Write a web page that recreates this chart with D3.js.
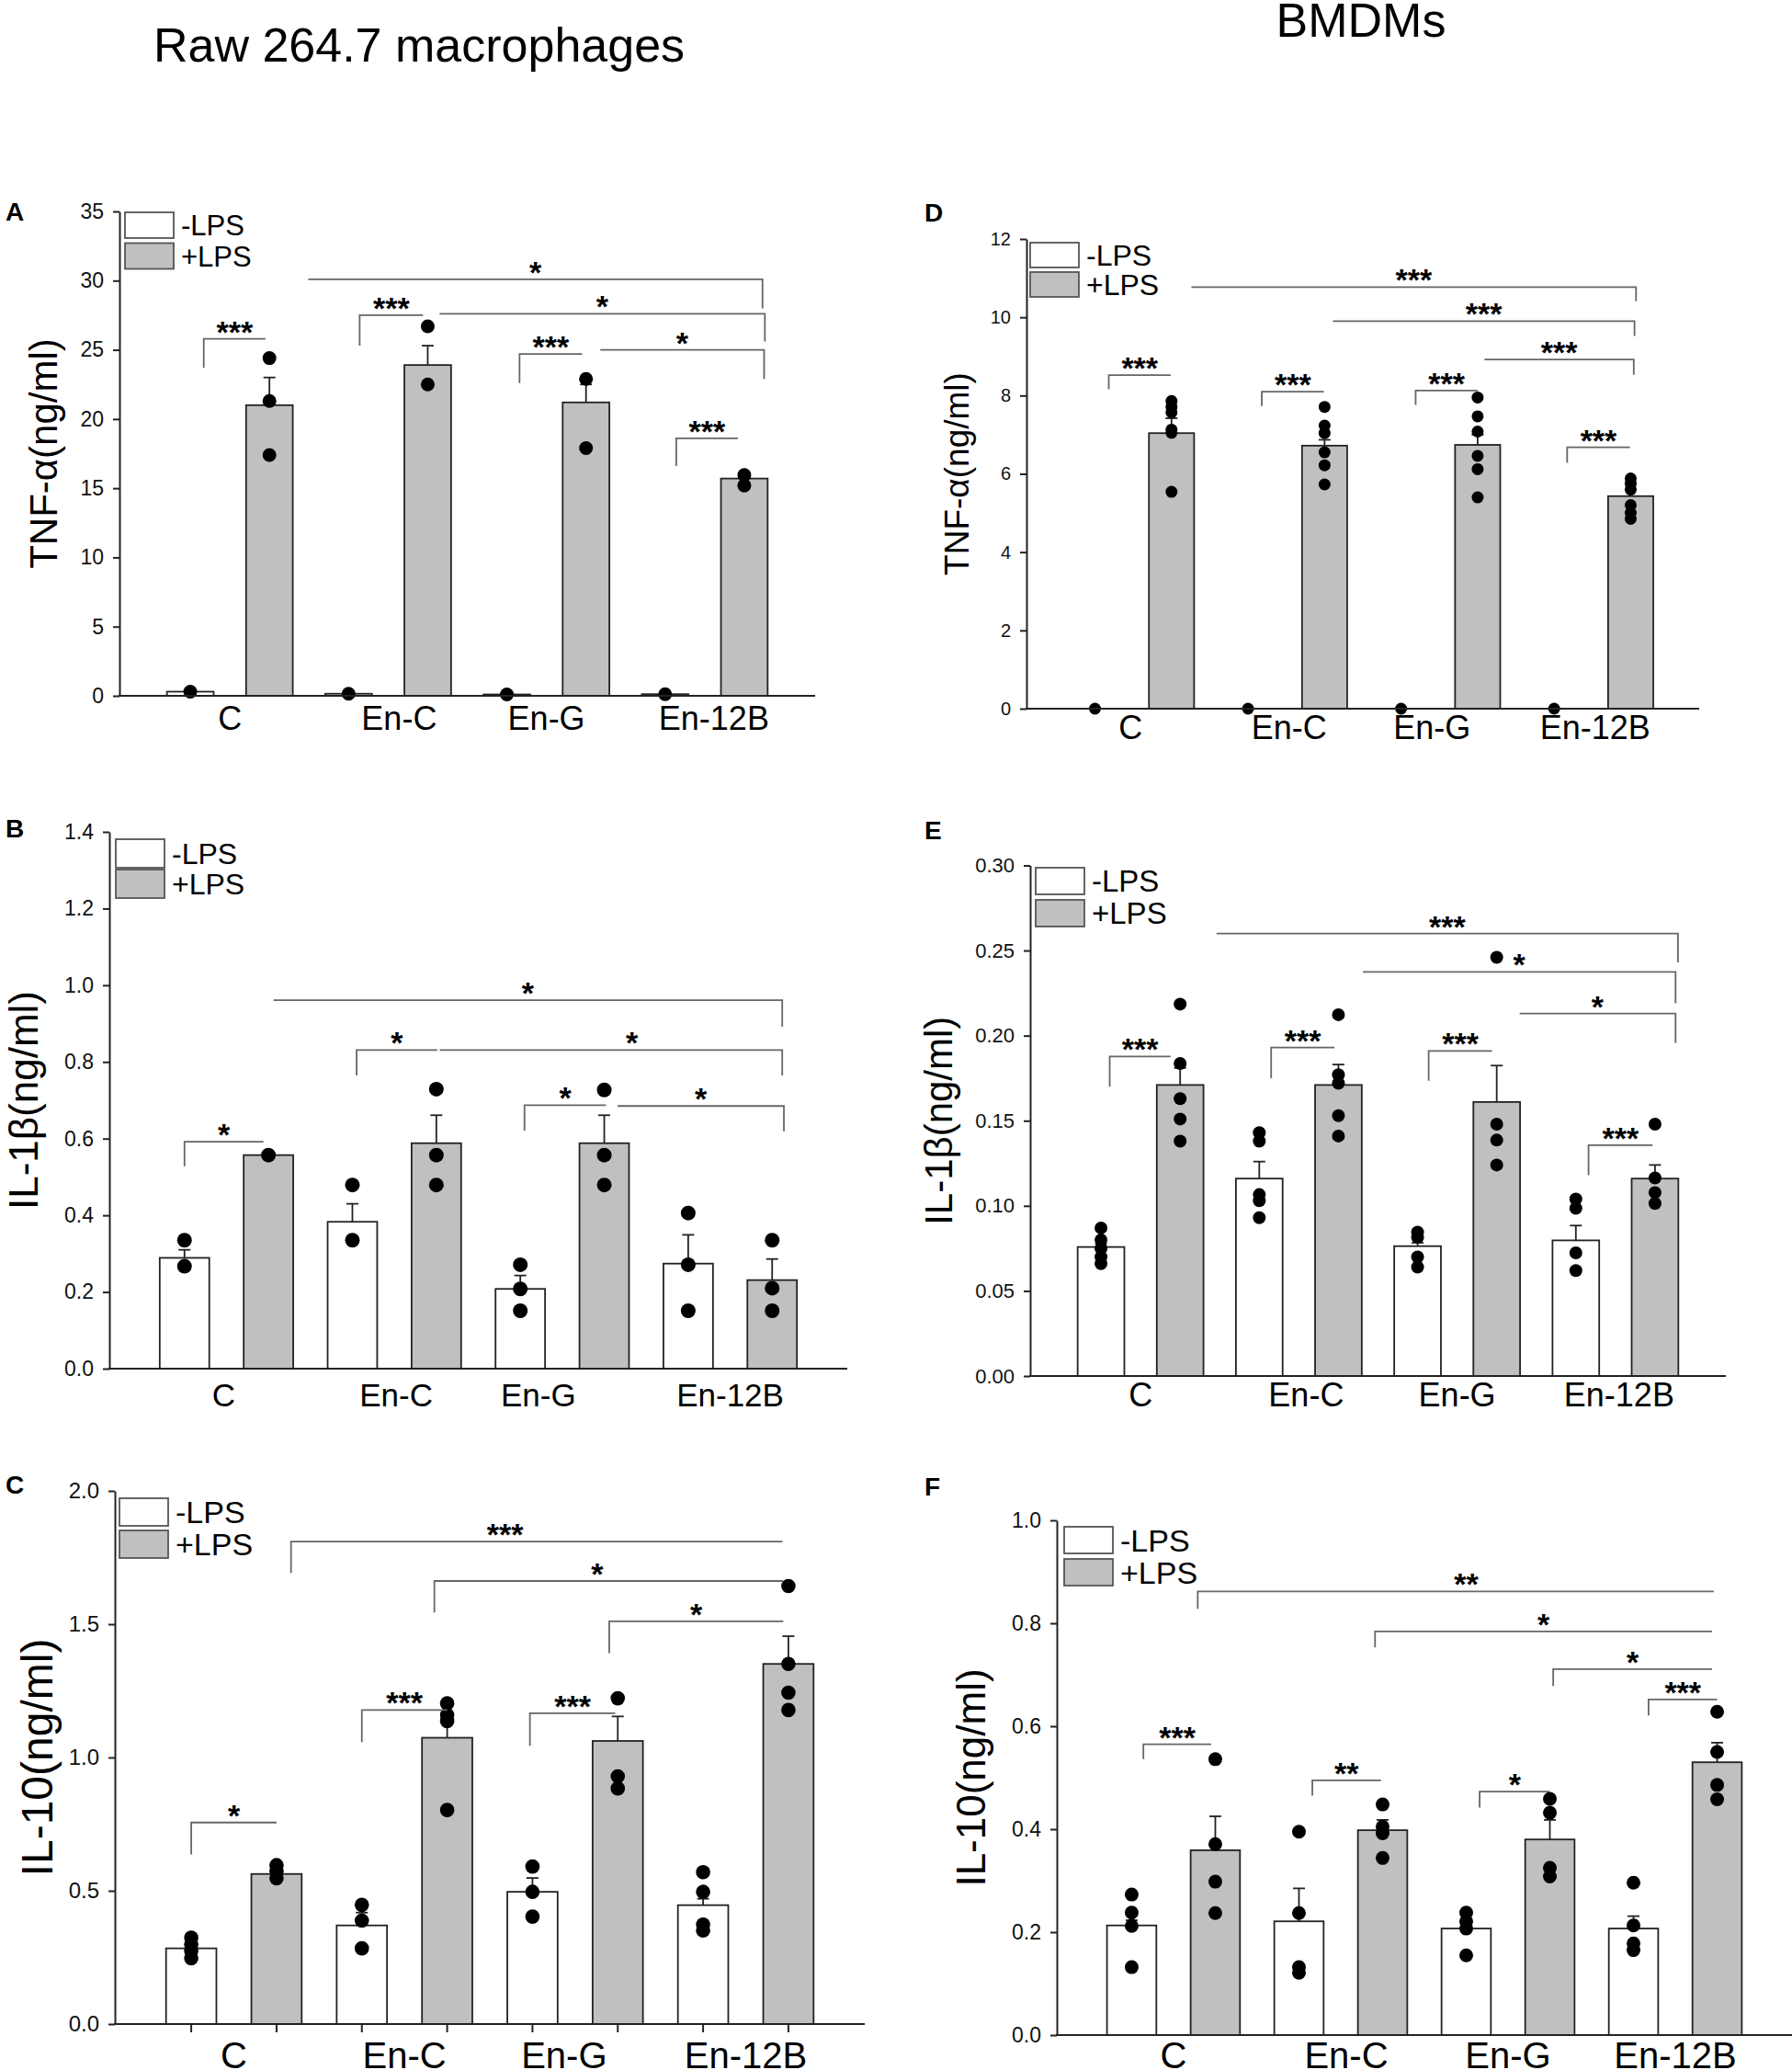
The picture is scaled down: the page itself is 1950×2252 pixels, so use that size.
<!DOCTYPE html>
<html>
<head>
<meta charset="utf-8">
<script src="https://d3js.org/d3.v7.min.js"></script>
<style>
body { margin: 0; background: #fff; }
svg { display: block; font-family: "Liberation Sans", Arial, sans-serif; }
</style>
</head>
<body>
<div id="chart"></div>
<script>
// bar order in every series: C-, C+, En-C-, En-C+, En-G-, En-G+, En-12B-, En-12B+
var groups = ['C', 'En-C', 'En-G', 'En-12B'];
var conditions = ['-LPS', '+LPS'];

// A: TNF-a, Raw 264.7
var tnfRawMean = [0.3, 21.0, 0.15, 23.9, 0.1, 21.2, 0.12, 15.7];
var tnfRawSem = [0, 2.0, 0, 1.4, 0, 1.3, 0, 0.2];
var tnfRawPoints = [[0.3], [24.4, 21.3, 17.4], [0.15], [26.7, 22.5], [0.1], [22.9, 17.9], [0.12], [15.96, 15.2]];
// [from slot, to slot, level, drop end, drop side, label, label slot]
var tnfRawSig = [
    [0.17, 0.95, 25.8, 23.7, 'left', '***'],
    [2.14, 2.94, 27.5, 25.3, 'left', '***'],
    [4.16, 4.95, 24.7, 22.6, 'left', '***'],
    [6.14, 6.92, 18.6, 16.6, 'left', '***'],
    [1.49, 7.23, 30.1, 28.0, 'right', '*'],
    [3.15, 7.26, 27.6, 25.6, 'right', '*'],
    [5.18, 7.25, 25.0, 22.9, 'right', '*']
];
var tnfRawTicks = [0, 5, 10, 15, 20, 25, 30, 35];

// B: IL-1b, Raw 264.7
var il1RawMean = [0.289, 0.557, 0.383, 0.588, 0.208, 0.588, 0.274, 0.231];
var il1RawSem = [0.021, 0, 0.047, 0.073, 0.035, 0.073, 0.075, 0.055];
var il1RawPoints = [[0.335, 0.267], [0.557], [0.479, 0.335], [0.729, 0.557, 0.479], [0.271, 0.208, 0.151], [0.727, 0.557, 0.479], [0.406, 0.271, 0.151], [0.335, 0.21, 0.151]];
var il1RawSig = [
    [0.0, 0.94, 0.592, 0.528, 'left', '*'],
    [2.05, 3.01, 0.831, 0.765, 'left', '*'],
    [3.04, 7.12, 0.831, 0.765, 'right', '*', 5.33],
    [4.05, 5.02, 0.687, 0.621, 'left', '*'],
    [5.16, 7.14, 0.685, 0.619, 'right', '*'],
    [1.06, 7.12, 0.961, 0.892, 'right', '*']
];
var il1RawTicks = [0, 0.2, 0.4, 0.6, 0.8, 1.0, 1.2, 1.4];

// C: IL-10, Raw 264.7
var il10RawMean = [0.284, 0.563, 0.370, 1.074, 0.496, 1.062, 0.446, 1.351];
var il10RawSem = [0.015, 0.01, 0.048, 0.055, 0.052, 0.092, 0.024, 0.104];
var il10RawPoints = [[0.324, 0.299, 0.274, 0.247], [0.596, 0.573, 0.547], [0.447, 0.388, 0.284], [1.203, 1.159, 1.136, 0.803], [0.591, 0.496, 0.403], [1.222, 0.929, 0.884], [0.570, 0.496, 0.373, 0.351], [1.643, 1.351, 1.243, 1.178]];
var il10RawSig = [
    [0.0, 1.0, 0.756, 0.636, 'left', '*'],
    [2.0, 3.0, 1.178, 1.058, 'left', '***'],
    [3.97, 4.97, 1.166, 1.044, 'left', '***'],
    [1.17, 6.93, 1.810, 1.692, 'left', '***', 3.68],
    [2.85, 6.94, 1.662, 1.544, 'left', '*', 4.76],
    [4.9, 6.94, 1.511, 1.391, 'left', '*']
];
var il10RawTicks = [0, 0.5, 1.0, 1.5, 2.0];

// D: TNF-a, BMDMs
var tnfBmMean = [0, 7.04, 0, 6.72, 0, 6.74, 0, 5.43];
var tnfBmSem = [0, 0.38, 0, 0.15, 0, 0.26, 0, 0.17];
var tnfBmPoints = [[0], [7.86, 7.71, 7.57, 7.13, 7.05, 5.54], [0], [7.71, 7.23, 7.04, 6.55, 6.22, 5.73], [0], [7.95, 7.47, 7.08, 6.46, 6.12, 5.40], [0], [5.88, 5.75, 5.6, 5.2, 5.0, 4.85]];
var tnfBmSig = [
    [0.18, 0.99, 8.52, 8.16, 'left', '***'],
    [2.18, 2.99, 8.10, 7.73, 'left', '***'],
    [4.19, 5.0, 8.13, 7.76, 'left', '***'],
    [6.17, 6.99, 6.68, 6.28, 'left', '***'],
    [1.26, 7.07, 10.77, 10.41, 'right', '***'],
    [3.11, 7.05, 9.9, 9.52, 'right', '***'],
    [5.09, 7.04, 8.92, 8.53, 'right', '***']
];
var tnfBmTicks = [0, 2, 4, 6, 8, 10, 12];

// E: IL-1b, BMDMs
var il1BmMean = [0.0758, 0.171, 0.116, 0.171, 0.0763, 0.161, 0.0797, 0.116];
var il1BmSem = [0.002, 0.010, 0.010, 0.012, 0.002, 0.0214, 0.0087, 0.008];
var il1BmPoints = [[0.087, 0.080, 0.075, 0.070, 0.066], [0.2185, 0.1836, 0.163, 0.151, 0.138], [0.143, 0.138, 0.1066, 0.103, 0.093], [0.2123, 0.177, 0.172, 0.153, 0.141], [0.0845, 0.0815, 0.070, 0.064], [0.246, 0.148, 0.1386, 0.124], [0.104, 0.0986, 0.0724, 0.062], [0.148, 0.1164, 0.1078, 0.1014]];
var il1BmSig = [
    [0.11, 0.88, 0.1877, 0.170, 'left', '***'],
    [2.15, 2.95, 0.193, 0.175, 'left', '***'],
    [4.14, 4.94, 0.191, 0.1735, 'left', '***'],
    [6.16, 6.97, 0.1356, 0.118, 'left', '***'],
    [1.46, 7.29, 0.260, 0.243, 'right', '***'],
    [3.31, 7.26, 0.2374, 0.219, 'right', '*'],
    [5.29, 7.26, 0.213, 0.1957, 'right', '*']
];
var il1BmTicks = [0, 0.05, 0.10, 0.15, 0.20, 0.25, 0.30];

// F: IL-10, BMDMs
var il10BmMean = [0.213, 0.359, 0.221, 0.398, 0.207, 0.380, 0.207, 0.530];
var il10BmSem = [0.01, 0.066, 0.064, 0.02, 0.006, 0.038, 0.024, 0.038];
var il10BmPoints = [[0.273, 0.238, 0.212, 0.132], [0.536, 0.371, 0.298, 0.237], [0.395, 0.237, 0.132, 0.121], [0.448, 0.405, 0.392, 0.344], [0.238, 0.221, 0.207, 0.155], [0.459, 0.432, 0.325, 0.308], [0.296, 0.213, 0.178, 0.165], [0.628, 0.55, 0.486, 0.458]];
var il10BmSig = [
    [0.14, 0.95, 0.565, 0.536, 'left', '***'],
    [2.16, 2.98, 0.495, 0.465, 'left', '**'],
    [4.16, 5.0, 0.473, 0.442, 'left', '*'],
    [6.18, 7.0, 0.652, 0.621, 'left', '***'],
    [0.79, 6.96, 0.862, 0.828, 'left', '**', 4.0],
    [2.91, 6.94, 0.784, 0.753, 'left', '*'],
    [5.04, 6.94, 0.711, 0.678, 'left', '*']
];
var il10BmTicks = [0, 0.2, 0.4, 0.6, 0.8, 1.0];

var columnTitles = ['Raw 264.7 macrophages', 'BMDMs'];

window.onload = function() {
    'use strict';
    var W = 1950, H = 2252;
    var svg = d3.select('#chart').append('svg')
        .attr('width', W).attr('height', H);

    var panels = [
        {key: 'A', title: 'TNF-\u03b1(ng/ml)', mean: tnfRawMean, sem: tnfRawSem, pts: tnfRawPoints, sig: tnfRawSig, ticks: tnfRawTicks, fmt: d3.format('d'),
         x0: 130, x1: 887, yB: 757, yT: 230, lab: [6, 240], leg: [136, 231, 33.5, 28], legSize: 31, titleX: 47, titleSize: 42,
         catY: 794, catSize: 36, catShift: [0, 12, 0, 10], tickSize: 23, r: 7.5},
        {key: 'B', title: 'IL-1\u03b2(ng/ml)', mean: il1RawMean, sem: il1RawSem, pts: il1RawPoints, sig: il1RawSig, ticks: il1RawTicks, fmt: d3.format('.1f'),
         x0: 119, x1: 922, yB: 1489, yT: 905, lab: [6, 911], leg: [126, 913, 33, 31], legSize: 32, titleX: 26, titleSize: 44,
         catY: 1530, catSize: 35, catShift: [-3, 2, -26, 0], tickSize: 23, r: 8},
        {key: 'C', title: 'IL-10(ng/ml)', mean: il10RawMean, sem: il10RawSem, pts: il10RawPoints, sig: il10RawSig, ticks: il10RawTicks, fmt: d3.format('.1f'),
         x0: 125, x1: 941, yB: 2202, yT: 1622, lab: [6, 1625], leg: [130, 1630, 35, 30], legSize: 34, titleX: 40, titleSize: 48,
         catY: 2250, catSize: 40, catShift: [0, 0, -12, 0], tickSize: 24, r: 7.8, xTicks: true},
        {key: 'D', title: 'TNF-\u03b1(ng/ml)', mean: tnfBmMean, sem: tnfBmSem, pts: tnfBmPoints, sig: tnfBmSig, ticks: tnfBmTicks, fmt: d3.format('d'),
         x0: 1117, x1: 1849, yB: 771, yT: 260, lab: [1006, 241], leg: [1121, 264, 32, 27], legSize: 32, titleX: 1041, titleSize: 37,
         catY: 804, catSize: 36, catShift: [-3, 3, -8, 3], tickSize: 20, r: 6.5},
        {key: 'E', title: 'IL-1\u03b2(ng/ml)', mean: il1BmMean, sem: il1BmSem, pts: il1BmPoints, sig: il1BmSig, ticks: il1BmTicks, fmt: d3.format('.2f'),
         x0: 1121, x1: 1878, yB: 1497, yT: 941.5, lab: [1006, 913], leg: [1127, 944, 35, 29], legSize: 33, titleX: 1021, titleSize: 42,
         catY: 1530, catSize: 36, catShift: [0, 8, 0, 4], tickSize: 22, r: 7},
        {key: 'F', title: 'IL-10(ng/ml)', mean: il10BmMean, sem: il10BmSem, pts: il10BmPoints, sig: il10BmSig, ticks: il10BmTicks, fmt: d3.format('.1f'),
         x0: 1150, x1: 1950, yB: 2214, yT: 1654, lab: [1006, 1627], leg: [1158, 1661, 35, 29], legSize: 34, titleX: 1057, titleSize: 44,
         catY: 2250, catSize: 40, catShift: [0, 6, 0, 0], tickSize: 23, r: 7.5}
    ];

    // column headings
    svg.append('text').attr('x', 456).attr('y', 67)
        .attr('text-anchor', 'middle').attr('font-size', 52).text(columnTitles[0]);
    svg.append('text').attr('x', 1481).attr('y', 40)
        .attr('text-anchor', 'middle').attr('font-size', 52).text(columnTitles[1]);

    function drawPanel(p) {
        var g = svg.append('g');
        var slots = d3.range(8);
        var x = d3.scaleBand().domain(slots).range([p.x0, p.x1])
            .paddingInner(0.41).paddingOuter(0.6);
        var bw = x.bandwidth();
        var cx = d3.scaleLinear().domain([0, 7])
            .range([x(0) + bw / 2, x(7) + bw / 2]);
        var y = d3.scaleLinear()
            .domain([0, p.ticks[p.ticks.length - 1]])
            .range([p.yB, p.yT]);

        // bars
        g.append('g').selectAll('rect')
            .data(p.mean)
            .enter()
            .append('rect')
            .attr('x', function(d, i) { return x(i); })
            .attr('width', bw)
            .attr('y', function(d) { return y(d); })
            .attr('height', function(d) { return p.yB - y(d); })
            .attr('fill', function(d, i) { return i % 2 ? '#c0c0c0' : '#fff'; })
            .attr('stroke', '#222')
            .attr('stroke-width', 1.8);

        // error bars (upper only)
        var eb = g.append('g').attr('stroke', '#222').attr('stroke-width', 1.8);
        p.sem.forEach(function(s, i) {
            if (!s) return;
            var c = cx(i);
            eb.append('line').attr('x1', c).attr('x2', c)
                .attr('y1', y(p.mean[i])).attr('y2', y(p.mean[i] + s));
            eb.append('line').attr('x1', c - 6.5).attr('x2', c + 6.5)
                .attr('y1', y(p.mean[i] + s)).attr('y2', y(p.mean[i] + s));
        });

        // individual points
        var flat = [];
        p.pts.forEach(function(arr, i) {
            arr.forEach(function(v) { flat.push({i: i, v: v}); });
        });
        g.append('g').selectAll('circle')
            .data(flat)
            .enter()
            .append('circle')
            .attr('cx', function(d) { return cx(d.i); })
            .attr('cy', function(d) { return y(d.v); })
            .attr('r', p.r)
            .attr('fill', '#000');

        // axes
        var yAxis = d3.axisLeft(y).tickValues(p.ticks).tickFormat(p.fmt)
            .tickSize(7).tickSizeOuter(0).tickPadding(10);
        var ya = g.append('g').attr('transform', 'translate(' + p.x0 + ',0)').call(yAxis);
        ya.select('.domain').attr('stroke', '#222').attr('stroke-width', 2);
        ya.selectAll('.tick line').attr('stroke', '#222').attr('stroke-width', 2);
        ya.selectAll('.tick text').attr('font-size', p.tickSize)
            .attr('font-family', '"Liberation Sans", Arial, sans-serif').attr('fill', '#111');

        g.append('line').attr('x1', p.x0 - 1).attr('x2', p.x1)
            .attr('y1', p.yB).attr('y2', p.yB)
            .attr('stroke', '#222').attr('stroke-width', 2);

        if (p.xTicks) {
            g.append('g').selectAll('line')
                .data(slots)
                .enter()
                .append('line')
                .attr('x1', function(d) { return cx(d); })
                .attr('x2', function(d) { return cx(d); })
                .attr('y1', p.yB).attr('y2', p.yB + 9)
                .attr('stroke', '#222').attr('stroke-width', 2);
        }

        // category labels
        g.append('g').selectAll('text')
            .data(groups)
            .enter()
            .append('text')
            .attr('x', function(d, k) { return (cx(2 * k) + cx(2 * k + 1)) / 2 + p.catShift[k]; })
            .attr('y', p.catY)
            .attr('text-anchor', 'middle')
            .attr('font-size', p.catSize)
            .text(function(d) { return d; });

        // y title
        var ty = (p.yB + p.yT) / 2;
        g.append('text')
            .attr('transform', 'translate(' + p.titleX + ',' + ty + ') rotate(-90)')
            .attr('text-anchor', 'middle')
            .attr('dy', '0.35em')
            .attr('font-size', p.titleSize)
            .text(p.title);

        // panel letter
        g.append('text').attr('x', p.lab[0]).attr('y', p.lab[1])
            .attr('font-size', 28).attr('font-weight', 'bold').text(p.key);

        // legend
        var lg = g.append('g');
        conditions.forEach(function(c, k) {
            var top = p.leg[1] + k * p.leg[2];
            lg.append('rect').attr('x', p.leg[0]).attr('y', top)
                .attr('width', 53).attr('height', p.leg[3])
                .attr('fill', k ? '#c0c0c0' : '#fff')
                .attr('stroke', '#555').attr('stroke-width', 1.8);
            lg.append('text').attr('x', p.leg[0] + 61).attr('y', top + p.leg[3] / 2)
                .attr('dy', '0.36em').attr('font-size', p.legSize).text(c);
        });

        // significance brackets
        var sg = g.append('g');
        p.sig.forEach(function(s) {
            var xa = cx(s[0]), xb = cx(s[1]);
            var yl = y(s[2]), yd = y(s[3]);
            var d = s[4] === 'left'
                ? 'M' + xa + ',' + yd + 'V' + yl + 'H' + xb
                : 'M' + xa + ',' + yl + 'H' + xb + 'V' + yd;
            sg.append('path').attr('d', d).attr('fill', 'none')
                .attr('stroke', '#666').attr('stroke-width', 1.8);
            var lx = s.length > 6 ? cx(s[6]) : (xa + xb) / 2;
            sg.append('text').attr('x', lx).attr('y', yl + 4)
                .attr('text-anchor', 'middle').attr('font-size', 34)
                .attr('font-weight', 'bold').text(s[5]);
        });
    }

    panels.forEach(drawPanel);
};
</script>
</body>
</html>
